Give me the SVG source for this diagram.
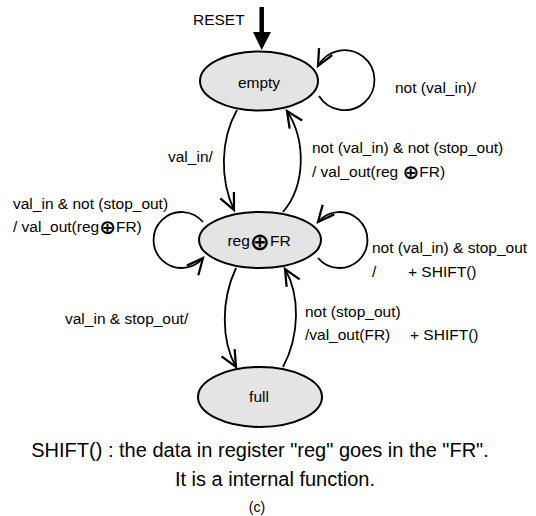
<svg xmlns="http://www.w3.org/2000/svg" width="536" height="516" viewBox="0 0 536 516">
<defs>
<style>
text{font-family:"Liberation Sans",Arial,sans-serif;font-size:15.5px;fill:#000}
.node ellipse{fill:#e4e4e4;stroke:#000;stroke-width:2}
.edge{fill:none;stroke:#000;stroke-width:1.8;marker-end:url(#open)}
.ox{font-family:"DejaVu Sans",sans-serif;font-size:20px;font-weight:bold}
.oxb{font-family:"DejaVu Sans",sans-serif;font-size:24px;font-weight:bold}
.big{font-size:20px}
</style>
<marker id="open" markerUnits="userSpaceOnUse" markerWidth="20" markerHeight="20" viewBox="-14 -8 16 16" refX="0" refY="0" orient="auto">
<path d="M-13,-6 L0,0 L-13,6" fill="none" stroke="#000" stroke-width="1.8"/>
</marker>
</defs>
<rect width="536" height="516" fill="#fff"/>
<g id="connectors">
<g id="reset">
<line x1="261.7" y1="7" x2="261.7" y2="34" stroke="#000" stroke-width="4.5"/>
<polygon points="253,32 271,32 261.7,50" fill="#000"/>
</g>
<path class="edge" d="M237,110 C220,140 220,180 234,210"/>
<path class="edge" d="M283,212 C306,185 306,140 287,111"/>
<path class="edge" d="M236,268 C221,300 221,340 236,367"/>
<path class="edge" d="M283,367 C300,335 300,295 285,269"/>
<path class="edge" d="M319,96 A30 30 0 1 0 318,66"/>
<path class="edge" d="M203,222 A28 28 0 1 0 203,258"/>
<path class="edge" d="M318,258 A28 28 0 1 0 318,222"/>
</g>
<g id="labels">
<text x="193" y="25">RESET</text>
<text x="395" y="93">not (val_in)/</text>
<text x="168" y="162">val_in/</text>
<text x="312" y="153">not (val_in) &amp; not (stop_out)</text>
<text x="312" y="177">/ val_out(reg <tspan class="ox" dy="2">⊕</tspan><tspan dy="-2">FR)</tspan></text>
<text x="13" y="209">val_in &amp; not (stop_out)</text>
<text x="13" y="232">/ val_out(reg<tspan class="ox" dy="2">⊕</tspan><tspan dy="-2">FR)</tspan></text>
<text x="372" y="253">not (val_in) &amp; stop_out</text>
<text x="372" y="277">/</text>
<text x="408" y="277">+ SHIFT()</text>
<text x="65" y="324">val_in &amp; stop_out/</text>
<text x="305" y="317">not (stop_out)</text>
<text x="305" y="340">/val_out(FR)</text>
<text x="410" y="340">+ SHIFT()</text>
<text class="big" x="260" y="457" text-anchor="middle">SHIFT() : the data in register "reg" goes in the "FR".</text>
<text class="big" x="275" y="486" text-anchor="middle">It is a internal function.</text>
<text x="257" y="512" text-anchor="middle" style="font-size:14px">(c)</text>
</g>
<g id="empty" class="node">
<ellipse cx="259" cy="81" rx="59" ry="29.5"/>
<text x="259" y="88" text-anchor="middle">empty</text>
</g>
<g id="reg" class="node">
<ellipse cx="260" cy="240" rx="61" ry="28"/>
<text x="259" y="246" text-anchor="middle">reg<tspan class="oxb" dy="4">⊕</tspan><tspan dy="-4">FR</tspan></text>
</g>
<g id="full" class="node">
<ellipse cx="260" cy="397" rx="62" ry="30"/>
<text x="259" y="402" text-anchor="middle">full</text>
</g>
</svg>
